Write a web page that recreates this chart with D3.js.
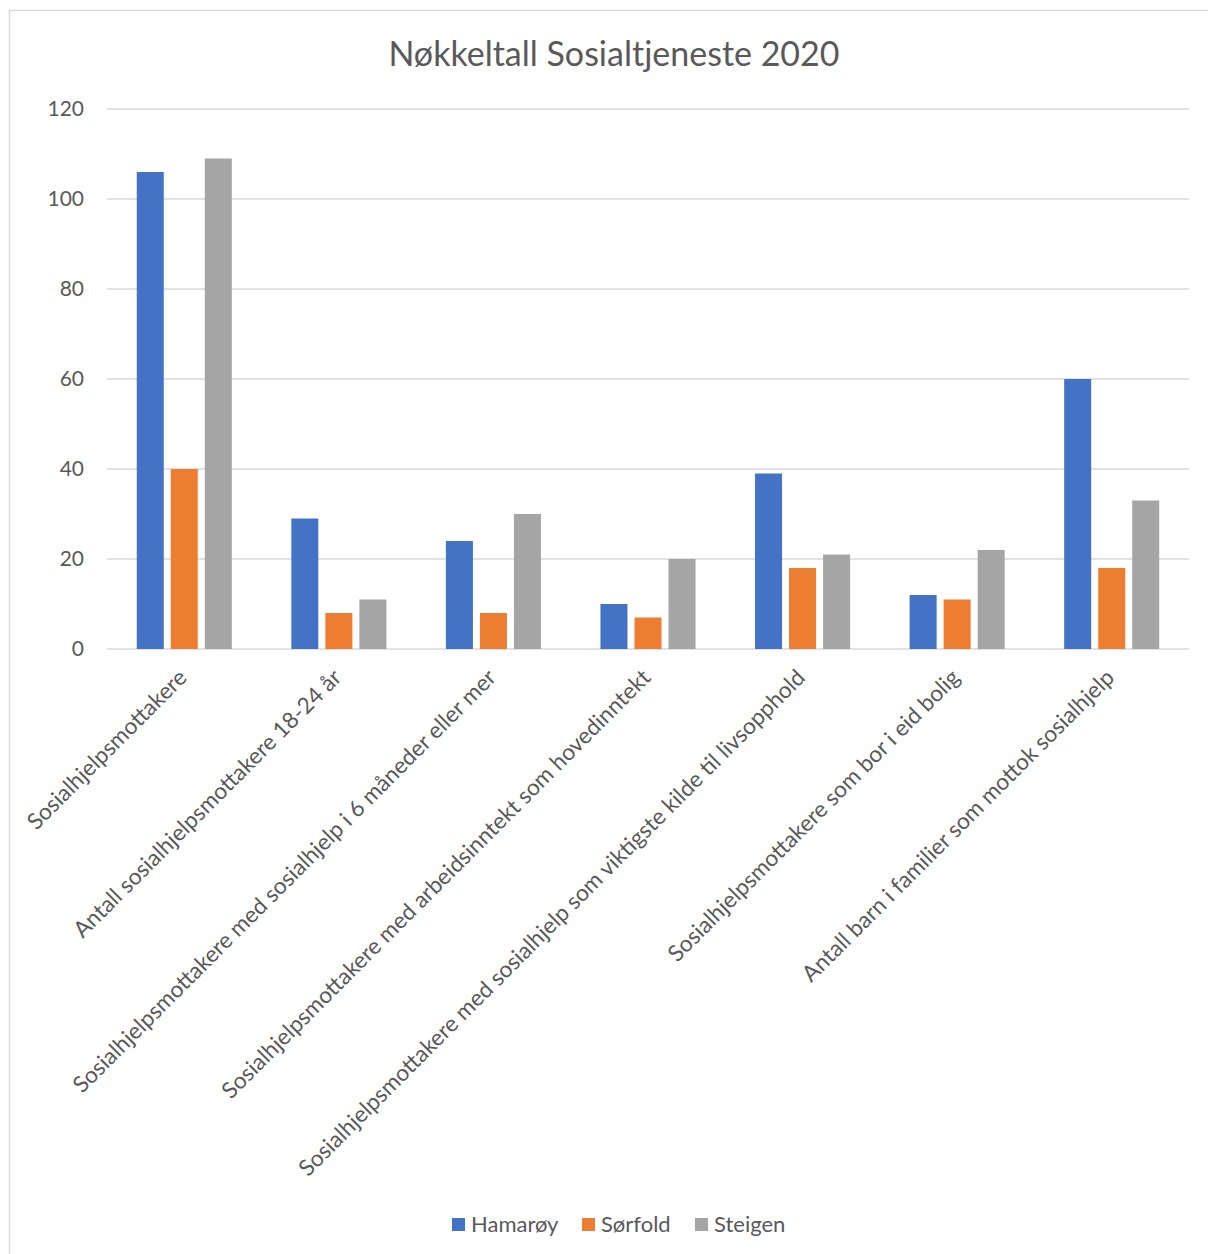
<!DOCTYPE html>
<html>
<head>
<meta charset="utf-8">
<title>Nøkkeltall</title>
<script src="https://d3js.org/d3.v7.min.js"></script>
<style>
  body { margin: 0; background: #fff; }
  text { font-family: Lato, "Open Sans", sans-serif; fill: #595959; }
</style>
</head>
<body>
<div id="chart"></div>
<script>
var categories = [
  "Sosialhjelpsmottakere",
  "Antall sosialhjelpsmottakere 18-24 år",
  "Sosialhjelpsmottakere med sosialhjelp i 6 måneder eller mer",
  "Sosialhjelpsmottakere med arbeidsinntekt som hovedinntekt",
  "Sosialhjelpsmottakere med sosialhjelp som viktigste kilde til livsopphold",
  "Sosialhjelpsmottakere som bor i eid bolig",
  "Antall barn i familier som mottok sosialhjelp"
];
var seriesNames = ["Hamarøy", "Sørfold", "Steigen"];
var hamaroy = [106, 29, 24, 10, 39, 12, 60];
var sorfold = [40, 8, 8, 7, 18, 11, 18];
var steigen = [109, 11, 30, 20, 21, 22, 33];
var colors = ["#4472C4", "#ED7D31", "#A5A5A5"];
var yTicks = [0, 20, 40, 60, 80, 100, 120];

var width = 1208, height = 1254;
var plotLeft = 107, plotRight = 1189, plotTop = 109, plotBottom = 649;

var svg = d3.select("#chart").append("svg")
    .attr("width", width)
    .attr("height", height);

// chart border
svg.append("rect")
    .attr("x", 9.5).attr("y", 10.5)
    .attr("width", width + 10).attr("height", height + 10)
    .attr("fill", "none").attr("stroke", "#d9d9d9").attr("stroke-width", 1.5);

svg.append("text")
    .attr("x", 614).attr("y", 66)
    .attr("text-anchor", "middle")
    .style("font-size", "34px")
    .text("Nøkkeltall Sosialtjeneste 2020");

var data = [hamaroy, sorfold, steigen];

var x0 = d3.scaleBand().domain(categories).range([plotLeft, plotRight]).paddingInner(0.385).paddingOuter(0.1925);
var x1 = d3.scaleBand().domain(seriesNames).range([0, x0.bandwidth()]).paddingInner(0.206);
var y = d3.scaleLinear().domain([0, 120]).range([plotBottom, plotTop]);

// gridlines
svg.append("g").selectAll("line")
    .data(yTicks)
    .join("line")
    .attr("x1", plotLeft).attr("x2", plotRight)
    .attr("y1", d => y(d)).attr("y2", d => y(d))
    .attr("stroke", "#d9d9d9").attr("stroke-width", 1.5);

var yAxis = d3.axisLeft(y).tickValues(yTicks).tickSize(0).tickPadding(0);
var gY = svg.append("g")
    .attr("transform", "translate(84,0)")
    .call(yAxis);
gY.select(".domain").remove();
gY.selectAll("text").style("font-size", "21px").attr("fill", "#595959").attr("font-family", null);

// bars
seriesNames.forEach(function(s, i) {
  svg.append("g").selectAll("rect")
      .data(data[i])
      .join("rect")
      .attr("x", (d, j) => x0(categories[j]) + x1(s))
      .attr("width", x1.bandwidth())
      .attr("y", d => y(d))
      .attr("height", d => y(0) - y(d))
      .attr("fill", colors[i]);
});

// x labels
svg.append("g").selectAll("text")
    .data(categories)
    .join("text")
    .attr("text-anchor", "end")
    .attr("transform", d => "translate(" + (x0(d) + x0.bandwidth() / 2 + 4) + "," + (plotBottom + 30) + ") rotate(-45)")
    .style("font-size", "22.6px")
    .text(d => d);

// legend
var legX = [452, 582, 695];
var leg = svg.append("g").selectAll("g")
    .data(seriesNames)
    .join("g")
    .attr("transform", (d, i) => "translate(" + legX[i] + ",1218)");
leg.append("rect").attr("width", 13).attr("height", 13).attr("fill", (d, i) => colors[i]);
leg.append("text").attr("x", 19).attr("y", 14).style("font-size", "22px").text(d => d);
</script>
</body>
</html>
